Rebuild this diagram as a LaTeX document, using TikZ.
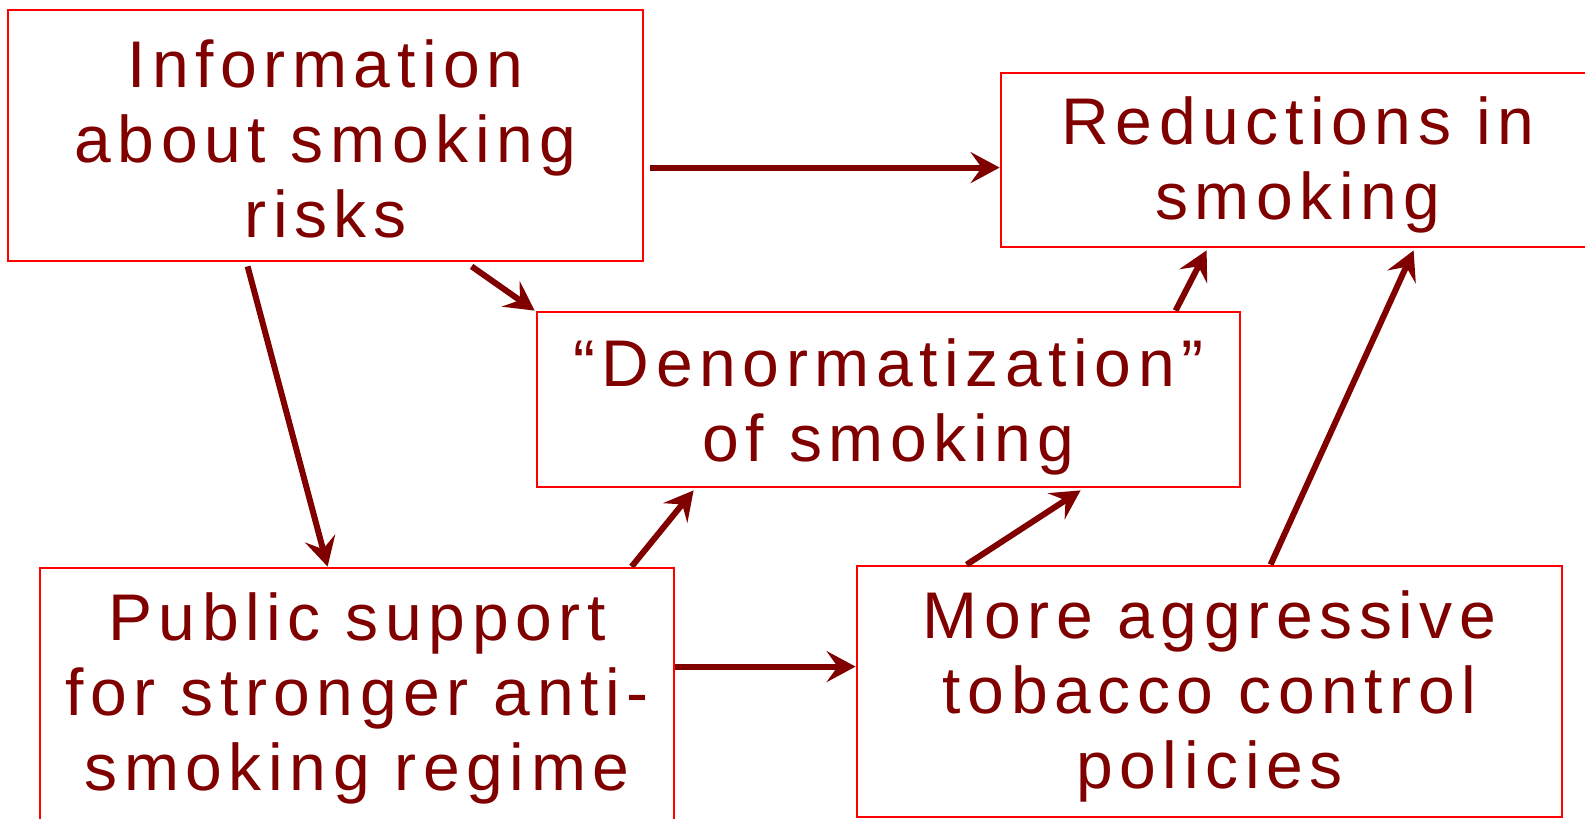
\documentclass[tikz,border=0pt]{standalone}
\usepackage{fontspec}
\setmainfont{Liberation Sans}[LetterSpace=10]
\usetikzlibrary{arrows.meta,calc}
\definecolor{maroonc}{HTML}{800000}
\definecolor{boxred}{HTML}{FF0000}
\begin{document}
\begin{tikzpicture}[x=1pt,y=1pt,
  box/.style={draw=boxred,line width=2.8pt,fill=white,inner sep=0pt,anchor=center},
  lbl/.style={align=center,inner sep=0pt,text=maroonc,font=\fontsize{66}{75}\selectfont},
  link/.style={draw=maroonc,line width=6pt,
    -{Stealth[length=29pt,width=31pt,inset=11pt]}}]
\useasboundingbox (0,0) rectangle (1585,-819);
\node[box,minimum width=635pt,minimum height=251pt,
  label={[lbl,yshift=-3pt]center:Information\\about smoking\\risks}] (info) at (325.5,-135.5) {};
\node[box,minimum width=594pt,minimum height=174pt,
  label={[lbl,yshift=-5pt]center:Reductions in\\smoking}] (red) at (1298,-160) {};
\node[box,minimum width=703pt,minimum height=175pt,
  label={[lbl,yshift=-7pt]center:“Denormatization”\\of smoking}] (den) at (888.5,-399.5) {};
\node[box,minimum width=634pt,minimum height=254pt,
  label={[lbl,yshift=-3pt]center:Public support\\for stronger anti-\\smoking regime}] (pub) at (357,-695) {};
\node[box,minimum width=705pt,minimum height=251pt,
  label={[lbl,yshift=-5pt]center:More aggressive\\tobacco control\\policies}] (more) at (1209.5,-691.5) {};
\draw[link] ($(info.north east)+(6,-159)$) -- ($(red.north west)+(0,-96)$);
\draw[link] ($(info.south west)+(241,-4)$) -- ($(pub.north west)+(289,0)$);
\draw[link] ($(info.south west)+(465,-4)$) -- ($(den.north west)+(-1,0)$);
\draw[link] ($(pub.north west)+(593,0)$) -- ($(den.south west)+(158,-2)$);
\draw[link] ($(pub.north east)+(0,-100)$) -- ($(more.north west)+(0,-102)$);
\draw[link] ($(more.north west)+(111,0)$) -- ($(den.south west)+(545,-2)$);
\draw[link] ($(den.north west)+(640,0)$) -- ($(red.south west)+(207,-2)$);
\draw[link] ($(more.north west)+(415,0)$) -- ($(red.south west)+(414,-2)$);
\end{tikzpicture}
\end{document}
